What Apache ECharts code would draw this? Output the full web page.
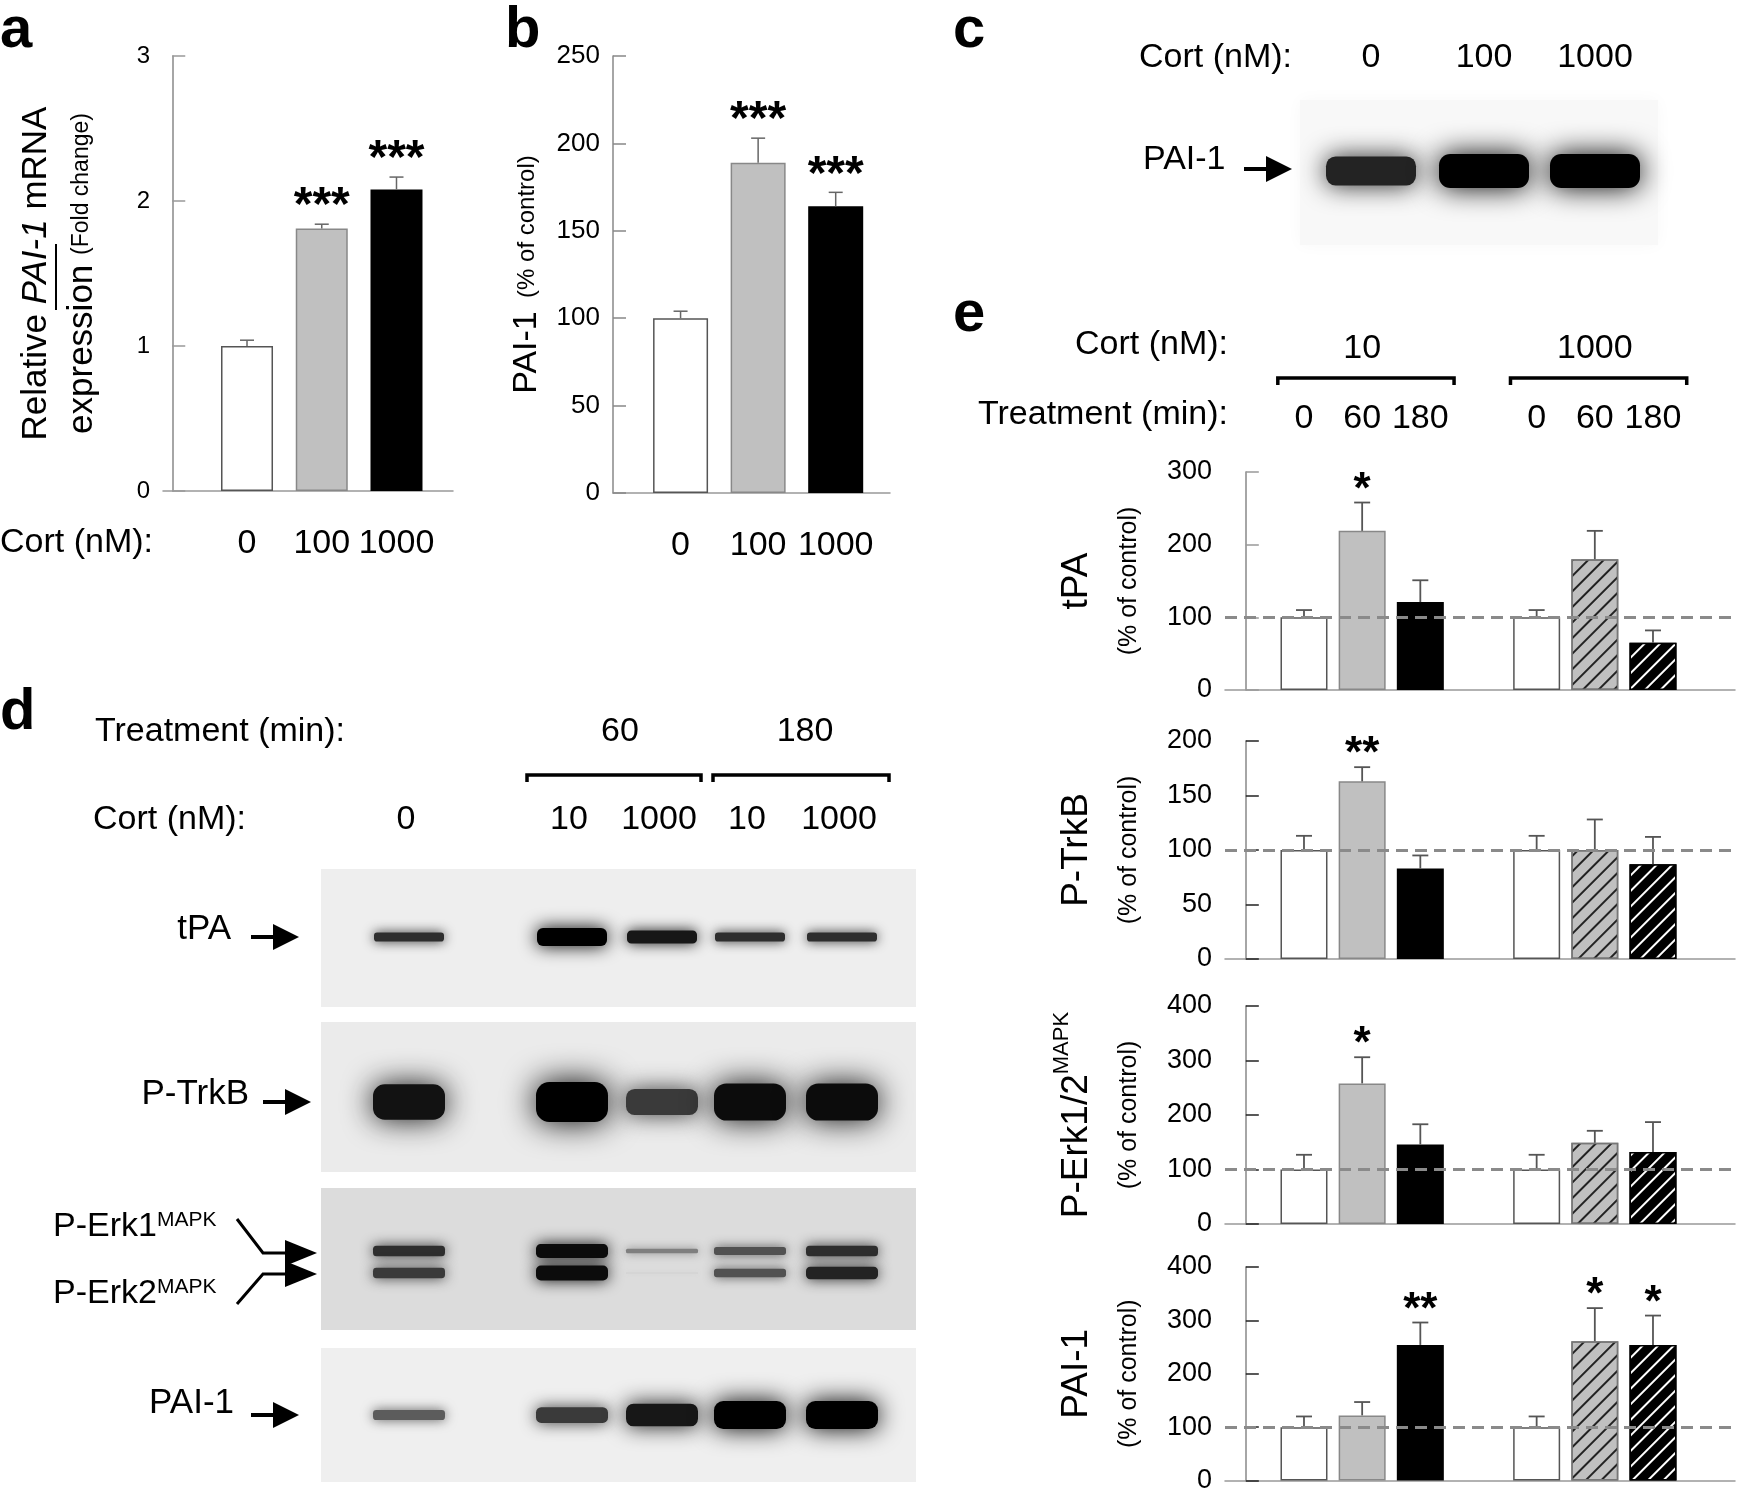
<!DOCTYPE html>
<html>
<head>
<meta charset="utf-8">
<script src="https://cdn.jsdelivr.net/npm/echarts@6/dist/echarts.min.js"></script>
<style>
  html, body { margin: 0; padding: 0; background: #fff; }
  #main { width: 1737px; height: 1494px; }
</style>
</head>
<body>
<div id="main"></div>
<script>
// 数据 a: PAI-1 mRNA 相对表达
const cortA = ["0", "100", "1000"];
const mrnaMean = [1.0, 1.81, 2.08];
const mrnaErr = [0.04, 0.03, 0.085];
const mrnaSig = ["", "***", "***"];
// 数据 b: PAI-1 蛋白
const cortB = ["0", "100", "1000"];
const paiMean = [100, 189, 164];
const paiErr = [4, 14, 8];
const paiSig = ["", "***", "***"];
// 数据 c: 条带强度 (0-1)
const cortC = ["0", "100", "1000"];
const bandC = [0.85, 1.0, 1.0];
// 数据 d: 条带强度 (0-1)
const treatD = ["60", "180"];
const cortD = ["0", "10", "1000", "10", "1000"];
const tpaBand = [0.8, 1.0, 0.9, 0.8, 0.8];
const trkbBand = [0.92, 1.0, 0.75, 0.95, 0.95];
const erk1Band = [0.8, 0.95, 0.45, 0.65, 0.8];
const erk2Band = [0.75, 0.95, 0.1, 0.65, 0.85];
const pai1Band = [0.6, 0.75, 0.9, 1.0, 1.0];
// 数据 e: 定量 (% of control)
const cortE = ["10", "1000"];
const treatE = ["0", "60", "180"];
const tpaMean = [100, 219, 121, 100, 180, 65];
const tpaErr = [10, 39, 30, 10, 39, 17];
const tpaSig = ["", "*", "", "", "", ""];
const trkbMean = [100, 163, 83, 100, 100, 87];
const trkbErr = [13, 13, 12, 13, 28, 25];
const trkbSig = ["", "**", "", "", "", ""];
const erkMean = [100, 258, 146, 100, 149, 132];
const erkErr = [27, 48, 37, 27, 22, 55];
const erkSig = ["", "*", "", "", "", ""];
const paieMean = [100, 122, 254, 100, 261, 254];
const paieErr = [20, 25, 42, 20, 62, 55];
const paieSig = ["", "", "**", "", "*", "*"];

const FONT = "Liberation Sans, Arial, Helvetica, sans-serif";
const fills = ["#ffffff", "#c0c0c0", "#000000"];
const edges = ["#555555", "#888888", "#000000"];

// 柱子位置: 类别序号
const posA = cortA.map((c, i) => i + 1);
const posB = cortB.map((c, i) => i + 1);
const posE = [];
cortE.forEach((c, g) => treatE.forEach((t, j) => posE.push(g * (treatE.length + 1) + j + 1)));

function barStyle(j, hatched) {
  const s = { color: fills[j], borderColor: edges[j], borderWidth: 1.5 };
  if (hatched) {
    s.decal = {
      symbol: "rect", symbolSize: 1, dashArrayX: [1, 0], dashArrayY: [1.6, 8.5],
      rotation: -Math.PI / 4, color: j === 2 ? "#ffffff" : "#222222"
    };
    s.borderColor = j === 2 ? "#000" : "#777";
  }
  return s;
}

// 误差线 + 显著性星号
function errSeries(xi, yi, xs, mean, err, sig, o) {
  return {
    type: "custom", xAxisIndex: xi, yAxisIndex: yi, clip: false, z: 5,
    data: mean.map((v, i) => [xs[i], v, err[i]]),
    renderItem: (params, api) => {
      const i = params.dataIndex;
      const base = api.coord([api.value(0), api.value(1)]);
      const tip = api.coord([api.value(0), api.value(1) + api.value(2)]);
      const st = { stroke: o.color, lineWidth: o.width };
      const children = [
        { type: "line", shape: { x1: base[0], y1: base[1], x2: tip[0], y2: tip[1] }, style: st },
        { type: "line", shape: { x1: tip[0] - o.cap, y1: tip[1], x2: tip[0] + o.cap, y2: tip[1] }, style: st }
      ];
      if (sig[i]) {
        children.push({
          type: "text", x: tip[0], y: tip[1] - o.gap,
          style: { text: sig[i], fontSize: o.star, fontWeight: "bold", fontFamily: FONT,
                   fill: "#000", align: "center", verticalAlign: "middle" }
        });
      }
      return { type: "group", children };
    }
  };
}

function yAxisBase(gi, max, interval, fontSize, tickColor) {
  return {
    gridIndex: gi, type: "value", min: 0, max: max, interval: interval,
    axisLine: { show: true, lineStyle: { color: "#888", width: 1.5 } },
    axisTick: { show: true, inside: true, length: 13, lineStyle: { color: tickColor, width: 1.5 } },
    axisLabel: { fontSize: fontSize, color: "#000", margin: 13, fontFamily: FONT },
    splitLine: { show: false },
    nameLocation: "middle", nameRotate: 90
  };
}
function xAxisBase(gi, min, max) {
  return {
    gridIndex: gi, type: "value", min: min, max: max,
    axisLine: { show: true, lineStyle: { color: "#999", width: 1.5 } },
    axisTick: { show: false }, splitLine: { show: false },
    axisLabel: { show: false }
  };
}

const eRows = [
  { title: "{t|tPA}", max: 300, interval: 100, mean: tpaMean, err: tpaErr, sig: tpaSig, tick: "#999" },
  { title: "{t|P-TrkB}", max: 200, interval: 50, mean: trkbMean, err: trkbErr, sig: trkbSig, tick: "#222" },
  { title: "{t|P-Erk1/2}{sup|MAPK}", max: 400, interval: 100, mean: erkMean, err: erkErr, sig: erkSig, tick: "#222" },
  { title: "{t|PAI-1}", max: 400, interval: 100, mean: paieMean, err: paieErr, sig: paieSig, tick: "#222" }
];
const eTops = [472, 741, 1006, 1267];

const grids = [
  { left: 163, top: 56, width: 290, height: 435 },
  { left: 613, top: 56, width: 277, height: 437 }
];
eTops.forEach((t) => grids.push({ left: 1225, top: t, width: 510, height: 218 }));

// x 轴
const xAxes = [];
const xa = xAxisBase(0, -0.124, 3.756);
xa.axisLabel = { show: true, customValues: posA, formatter: (v) => cortA[v - 1],
                 fontSize: 34, color: "#000", margin: 36, fontFamily: FONT };
xAxes.push(xa);
const xb = xAxisBase(1, 0.129, 3.70);
xb.axisLabel = { show: true, customValues: posB, formatter: (v) => cortB[v - 1],
                 fontSize: 34, color: "#000", margin: 36, fontFamily: FONT };
xAxes.push(xb);
eRows.forEach((r, k) => xAxes.push(xAxisBase(2 + k, -0.358, 8.41)));
// e 顶部标签: 处理时间与浓度
xAxes.push({
  gridIndex: 2, type: "value", position: "top", min: -0.358, max: 8.41,
  axisLine: { show: false }, axisTick: { show: false }, splitLine: { show: false },
  axisLabel: { customValues: posE, formatter: (v) => treatE[(v - 1) % (treatE.length + 1)],
               fontSize: 34, color: "#000", margin: 36, fontFamily: FONT }
});
const cortPosE = cortE.map((c, g) => g * (treatE.length + 1) + 2);
xAxes.push({
  gridIndex: 2, type: "value", position: "top", min: -0.358, max: 8.41,
  axisLine: { show: false }, axisTick: { show: false }, splitLine: { show: false },
  axisLabel: { customValues: cortPosE, formatter: (v) => cortE[(v - 2) / (treatE.length + 1)],
               fontSize: 34, color: "#000", margin: 106, fontFamily: FONT }
});

// y 轴
const yAxes = [];
const ya = yAxisBase(0, 3, 1, 24, "#999");
ya.name = "{t|Relative }{i|PAI-1}{t| mRNA}\n{t|expression }{s|(Fold change)}";
ya.nameGap = 58;
ya.nameTextStyle = { color: "#000", rich: {
  t: { fontSize: 35, fontFamily: FONT, color: "#000", lineHeight: 46 },
  i: { fontSize: 35, fontFamily: FONT, color: "#000", lineHeight: 46, fontStyle: "italic" },
  s: { fontSize: 23, fontFamily: FONT, color: "#000", lineHeight: 46 }
} };
yAxes.push(ya);
const yb = yAxisBase(1, 250, 50, 26, "#888");
yb.name = "{t|PAI-1}{s|  (% of control)}";
yb.nameGap = 66;
yb.nameTextStyle = { color: "#000", rich: {
  t: { fontSize: 34, fontFamily: FONT, color: "#000", lineHeight: 40 },
  s: { fontSize: 24, fontFamily: FONT, color: "#000", lineHeight: 40 }
} };
yAxes.push(yb);
eRows.forEach((r, k) => {
  const y = yAxisBase(2 + k, r.max, r.interval, 27, r.tick);
  y.name = r.title + "\n{s|(% of control)}";
  y.nameGap = 70;
  y.nameTextStyle = { color: "#000", rich: {
    t: { fontSize: 37, fontFamily: FONT, color: "#000", lineHeight: 52 },
    sup: { fontSize: 22, fontFamily: FONT, color: "#000", lineHeight: 52, verticalAlign: "top" },
    s: { fontSize: 25, fontFamily: FONT, color: "#000", lineHeight: 52 }
  } };
  yAxes.push(y);
});

// 系列
const series = [];
series.push({
  type: "bar", xAxisIndex: 0, yAxisIndex: 0, barWidth: 52,
  data: mrnaMean.map((v, i) => ({ value: [posA[i], v], itemStyle: barStyle(i, false) }))
});
series.push(errSeries(0, 0, posA, mrnaMean, mrnaErr, mrnaSig, { color: "#666", width: 1.5, cap: 7, gap: 17, star: 48 }));
series.push({
  type: "bar", xAxisIndex: 1, yAxisIndex: 1, barWidth: 55,
  data: paiMean.map((v, i) => ({ value: [posB[i], v], itemStyle: barStyle(i, false) }))
});
series.push(errSeries(1, 1, posB, paiMean, paiErr, paiSig, { color: "#666", width: 1.5, cap: 7, gap: 17, star: 48 }));
eRows.forEach((r, k) => {
  series.push({
    type: "bar", xAxisIndex: 2 + k, yAxisIndex: 2 + k, barWidth: 47,
    data: r.mean.map((v, i) => {
      const j = i % treatE.length;
      const hatched = i >= treatE.length && j > 0;
      return { value: [posE[i], v], itemStyle: barStyle(j, hatched) };
    }),
    markLine: {
      silent: true, symbol: "none", label: { show: false },
      lineStyle: { type: [12, 7], color: "#8a8a8a", width: 3 },
      data: [{ yAxis: 100 }]
    }
  });
  series.push(errSeries(2 + k, 2 + k, posE, r.mean, r.err, r.sig,
    { color: "#555", width: 1.8, cap: 8, gap: 12, star: 44 }));
});

// 图形: 字母, 印迹
function txt(text, x, y, size, align, extra) {
  return Object.assign({ type: "text", x: x, y: y, style: {
    text: text, fontSize: size, fontFamily: FONT, fill: "#000",
    align: align || "left", verticalAlign: "middle" } }, extra || {});
}
function letter(ch, x, y) {
  return { type: "text", x: x, y: y, style: { text: ch, fontSize: 58, fontWeight: "bold",
    fontFamily: FONT, fill: "#000", align: "left", verticalAlign: "bottom" } };
}
function band(cx, cy, w, dark, base, pw) {
  const h = Math.max(1, base * Math.pow(dark, pw));
  const g = Math.round(230 * (1 - dark));
  const col = "rgb(" + g + "," + g + "," + g + ")";
  return { type: "rect", shape: { x: cx - w / 2, y: cy - h / 2, width: w, height: h, r: h / 3 },
           style: { fill: col, shadowBlur: h * 0.7 + 5, shadowColor: col } };
}
function arrow(x1, x2, y) {
  return { type: "group", children: [
    { type: "rect", shape: { x: x1, y: y - 2, width: x2 - x1 - 22, height: 4 }, style: { fill: "#000" } },
    { type: "polygon", shape: { points: [[x2 - 26, y - 13], [x2, y], [x2 - 26, y + 13]] }, style: { fill: "#000" } }
  ] };
}
function bracket(x1, x2, y) {
  return { type: "polyline", shape: { points: [[x1, y + 7], [x1, y], [x2, y], [x2, y + 7]] },
           style: { stroke: "#000", lineWidth: 3.5, fill: null } };
}

const graphics = [];
graphics.push(letter("a", 0, 60), letter("b", 505, 60), letter("c", 953, 60),
              letter("d", 0, 742), letter("e", 953, 344));
// a
graphics.push(txt("Cort (nM):", 0, 543, 34));
graphics.push({ type: "line", shape: { x1: 56, y1: 244, x2: 56, y2: 310 }, style: { stroke: "#000", lineWidth: 2 } });
// c
graphics.push(txt("Cort (nM):", 1139, 58, 34));
const laneC = [1371, 1484, 1595];
cortC.forEach((c, i) => graphics.push(txt(c, laneC[i], 58, 34, "center")));
graphics.push({ type: "rect", shape: { x: 1300, y: 100, width: 358, height: 145 },
  style: { fill: "#f8f8f8", shadowBlur: 16, shadowColor: "#f8f8f8" } });
bandC.forEach((d, i) => graphics.push(band(laneC[i], 171, 90, d, 34, 1)));
graphics.push(txt("PAI-1", 1143, 160, 34));
graphics.push(arrow(1244, 1292, 169));
// d
const laneD = [406, 569, 659, 747, 839];
graphics.push(txt("Treatment (min):", 95, 732, 34));
graphics.push(txt(treatD[0], 620, 732, 34, "center"), txt(treatD[1], 805, 732, 34, "center"));
graphics.push(bracket(527, 701, 775), bracket(713, 889, 775));
graphics.push(txt("Cort (nM):", 93, 820, 34));
cortD.forEach((c, i) => graphics.push(txt(c, laneD[i], 820, 34, "center")));
const blots = [
  { y: 869, h: 138, bg: "#eeeeee" },
  { y: 1022, h: 150, bg: "#ebebeb" },
  { y: 1188, h: 142, bg: "#dcdcdc" },
  { y: 1348, h: 134, bg: "#efefef" }
];
blots.forEach((b) => graphics.push({ type: "rect", shape: { x: 321, y: b.y, width: 595, height: b.h }, style: { fill: b.bg } }));
tpaBand.forEach((d, i) => graphics.push(band(laneD[i] + 3, 937, 70, d, 18, 3)));
trkbBand.forEach((d, i) => graphics.push(band(laneD[i] + 3, 1102, 72, d, 40, 1.5)));
erk1Band.forEach((d, i) => graphics.push(band(laneD[i] + 3, 1251, 72, d, 15, 1.5)));
erk2Band.forEach((d, i) => graphics.push(band(laneD[i] + 3, 1273, 72, d, 16, 1.5)));
pai1Band.forEach((d, i) => graphics.push(band(laneD[i] + 3, 1415, 72, d, 28, 2)));
graphics.push(txt("tPA", 231, 929, 35, "right"), arrow(251, 299, 937));
graphics.push(txt("P-TrkB", 249, 1094, 35, "right"), arrow(263, 311, 1102));
graphics.push(txt("PAI-1", 234, 1403, 35, "right"), arrow(251, 299, 1415));
const erkRich = { n: { fontSize: 34, fontFamily: FONT, fill: "#000" },
                  sup: { fontSize: 21, fontFamily: FONT, fill: "#000", verticalAlign: "top", padding: [0, 0, 14, 0] } };
graphics.push({ type: "text", x: 53, y: 1227, style: { text: "{n|P-Erk1}{sup|MAPK}", rich: erkRich, align: "left", verticalAlign: "middle" } });
graphics.push({ type: "text", x: 53, y: 1294, style: { text: "{n|P-Erk2}{sup|MAPK}", rich: erkRich, align: "left", verticalAlign: "middle" } });
graphics.push({ type: "polyline", shape: { points: [[237, 1219], [263, 1253], [290, 1253]] }, style: { stroke: "#000", lineWidth: 3, fill: null } });
graphics.push({ type: "polyline", shape: { points: [[237, 1304], [263, 1274], [290, 1274]] }, style: { stroke: "#000", lineWidth: 3, fill: null } });
graphics.push({ type: "polygon", shape: { points: [[285, 1240], [317, 1253], [285, 1266]] }, style: { fill: "#000" } });
graphics.push({ type: "polygon", shape: { points: [[285, 1261], [317, 1274], [285, 1287]] }, style: { fill: "#000" } });
// e
graphics.push(txt("Cort (nM):", 1228, 345, 34, "right"));
graphics.push(txt("Treatment (min):", 1228, 415, 34, "right"));

const option = {
  animation: false,
  backgroundColor: "#ffffff",
  textStyle: { fontFamily: FONT },
  grid: grids,
  xAxis: xAxes,
  yAxis: yAxes,
  series: series,
  graphic: { elements: graphics }
};

const chart = echarts.init(document.getElementById("main"));
chart.setOption(option);
// e 组括号, 由坐标轴换算位置
cortE.forEach((c, g) => {
  const first = posE[g * treatE.length];
  const last = posE[g * treatE.length + treatE.length - 1];
  const x1 = chart.convertToPixel({ xAxisIndex: 2 }, first - 0.45);
  const x2 = chart.convertToPixel({ xAxisIndex: 2 }, last + 0.58);
  graphics.push(bracket(x1, x2, 378));
});
chart.setOption(option, true);
</script>
</body>
</html>
